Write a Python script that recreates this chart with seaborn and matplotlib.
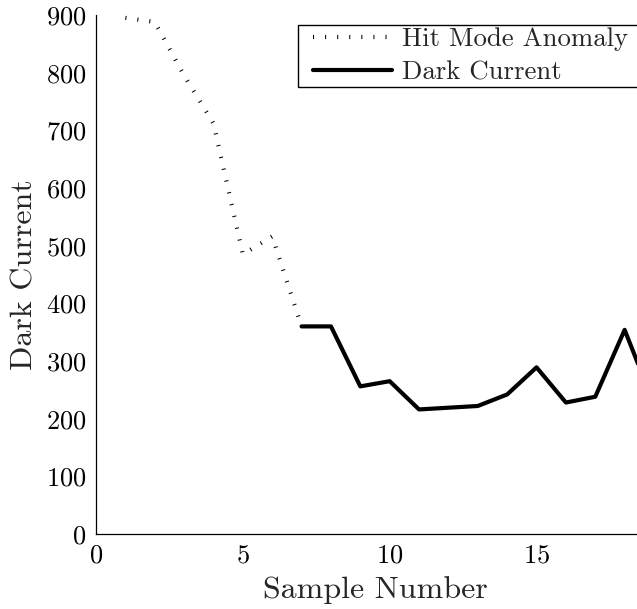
import matplotlib
matplotlib.use("Agg")
import matplotlib.pyplot as plt
from matplotlib.path import Path
import seaborn as sns
import pandas as pd

# ---- data ----
anomaly_x = [1, 2, 3, 4, 5, 6, 7]
anomaly_y = [895, 888, 795, 712, 485, 516, 360]
dark_x = [7, 8, 9, 10, 11, 12, 13, 14, 15, 16, 17, 18, 19]
dark_y = [360, 360, 256, 265, 216, 219, 222, 242, 289, 228, 238, 354, 225]
x_ticks = [0, 5, 10, 15]
y_ticks = [0, 100, 200, 300, 400, 500, 600, 700, 800, 900]
series_names = ["Hit Mode Anomaly", "Dark Current"]

sns.set_theme(style="white")
plt.rcParams["font.family"] = ["cmr10", "DejaVu Serif"]
plt.rcParams["axes.formatter.use_mathtext"] = True

fig = plt.figure(figsize=(6.37, 6.09), dpi=100)
ax = fig.add_axes([96 / 637, 1 - 534 / 609, (654 - 96) / 637, (534 - 15) / 609])

df_a = pd.DataFrame({"x": anomaly_x, "y": anomaly_y})
df_d = pd.DataFrame({"x": dark_x, "y": dark_y})

sns.lineplot(data=df_a, x="x", y="y", ax=ax, color="black", linewidth=3.0,
             label=series_names[0], dashes=False)
sns.lineplot(data=df_d, x="x", y="y", ax=ax, color="black", linewidth=3.0,
             label=series_names[1])
ax.lines[0].set_dashes([0.25, 2.65])
ax.lines[0].set_dash_capstyle("butt")

ax.set_xlim(0, 19)
ax.set_ylim(0, 900)
ax.set_xticks(x_ticks)
ax.set_yticks(y_ticks)
ax.set_xlabel("Sample Number", fontsize=23, labelpad=6)
ax.set_ylabel("Dark Current", fontsize=23, labelpad=5.5)
ax.tick_params(axis="both", direction="in", length=5, width=0.8,
               labelsize=19, colors="black", pad=7)
for s in ["top", "right"]:
    ax.spines[s].set_visible(False)
for s in ["left", "bottom"]:
    ax.spines[s].set_color("black")
    ax.spines[s].set_linewidth(0.9)

EXTRA_X = 12.0


def wide_box(x0, y0, width, height, mutation_size):
    return Path([(x0 - EXTRA_X, y0), (x0 + width + EXTRA_X, y0),
                 (x0 + width + EXTRA_X, y0 + height), (x0 - EXTRA_X, y0 + height),
                 (x0 - EXTRA_X, y0)], closed=True)


leg = ax.legend(loc="upper left", bbox_to_anchor=(310 / 637, 1 - 25 / 609),
                bbox_transform=fig.transFigure, fontsize=19.3, frameon=True,
                fancybox=False, framealpha=1, edgecolor="black",
                handlelength=2.95, handletextpad=0.37, borderpad=0.1,
                labelspacing=0.35, borderaxespad=0)
leg.get_frame().set_linewidth(1.0)
leg.get_frame().set_boxstyle(wide_box)

fig.savefig("out.png", dpi=100)
